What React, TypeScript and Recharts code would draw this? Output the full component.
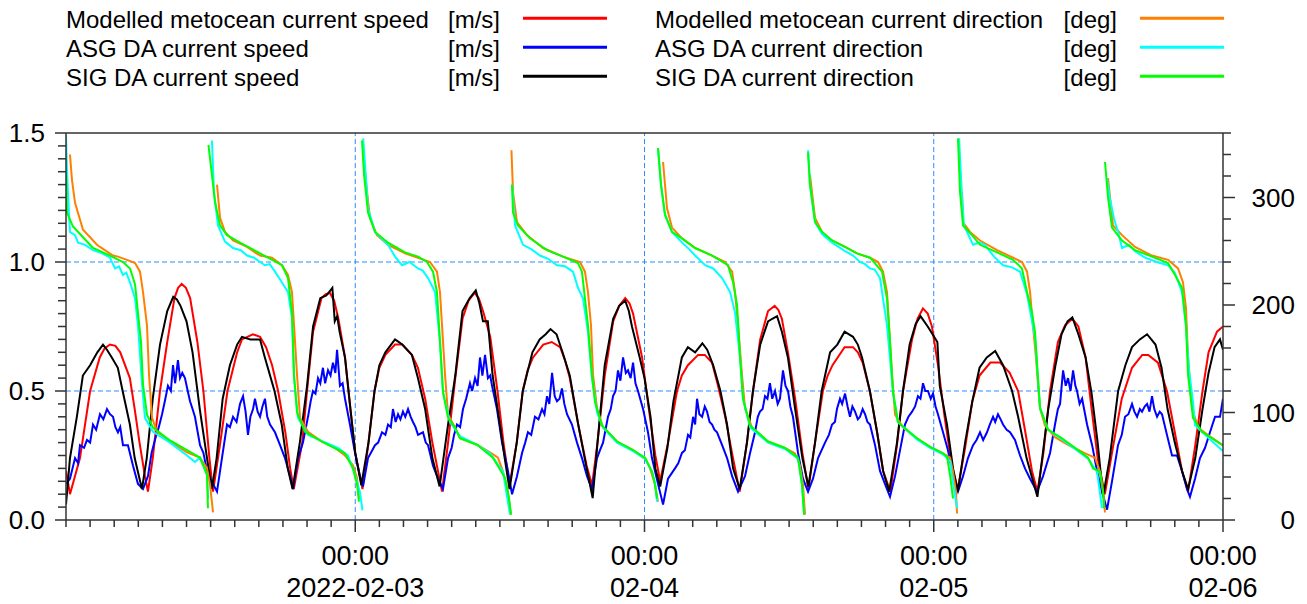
import { LineChart, Line, XAxis, YAxis, ReferenceLine, Legend } from "recharts";

type Pt = [number, number | null];

// hours since 2022-02-02 00:00 -> value
const MODEL_SPEED: Pt[] = [
  [0, 0.19], [0.33, 0.1], [1.16, 0.24], [2.0, 0.5], [2.8, 0.63], [3.2, 0.665], [3.65, 0.68], [4.1, 0.675], [4.5, 0.65],
  [5.3, 0.55], [5.7, 0.43], [6.1, 0.3], [6.55, 0.17], [6.8, 0.11], [7.2, 0.24], [7.8, 0.5], [8.4, 0.69], [9.0, 0.86],
  [9.3, 0.9], [9.6, 0.915], [9.95, 0.9], [10.3, 0.86], [10.9, 0.69], [11.4, 0.5], [11.9, 0.24], [12.2, 0.11], [12.8, 0.3],
  [13.4, 0.5], [14.2, 0.65], [14.6, 0.7], [15.5, 0.72], [16.1, 0.71], [16.6, 0.67], [17.1, 0.6], [17.6, 0.5], [18.2, 0.34],
  [18.6, 0.2], [18.9, 0.12], [19.6, 0.3], [20.0, 0.5], [20.5, 0.73], [21.2, 0.86], [21.55, 0.875], [21.9, 0.88],
  [22.25, 0.85], [22.6, 0.78], [23.15, 0.63], [23.6, 0.43], [24.0, 0.26], [24.6, 0.12], [25.1, 0.3], [25.6, 0.5],
  [26.0, 0.59], [26.5, 0.64], [27.3, 0.68], [27.9, 0.68], [28.7, 0.64], [29.2, 0.59], [29.8, 0.47], [30.4, 0.3], [31.2, 0.11],
  [31.7, 0.3], [32.3, 0.55], [32.9, 0.78], [33.4, 0.85], [33.9, 0.88], [34.25, 0.86], [34.6, 0.81], [35.2, 0.71], [35.8, 0.5],
  [36.3, 0.3], [36.8, 0.135], [37.4, 0.3], [37.9, 0.5], [38.3, 0.58], [38.75, 0.63], [39.6, 0.68], [40.3, 0.69], [41.0, 0.67],
  [41.4, 0.62], [41.8, 0.55], [42.5, 0.37], [43.2, 0.21], [43.65, 0.135], [44.1, 0.3], [44.7, 0.56], [45.4, 0.77],
  [45.9, 0.83], [46.4, 0.86], [46.75, 0.84], [47.05, 0.8], [47.8, 0.63], [48.3, 0.45], [48.9, 0.25], [49.3, 0.15],
  [49.95, 0.3], [50.7, 0.5], [51.1, 0.56], [51.6, 0.6], [52.45, 0.64], [53.0, 0.64], [53.6, 0.61], [54.1, 0.52], [54.7, 0.4],
  [55.3, 0.25], [55.9, 0.11], [56.5, 0.3], [57.0, 0.5], [57.6, 0.7], [58.25, 0.81], [58.8, 0.83], [59.1, 0.815], [59.4, 0.78],
  [59.9, 0.65], [60.5, 0.47], [61.1, 0.26], [61.6, 0.12], [62.15, 0.3], [62.8, 0.5], [63.2, 0.56], [63.6, 0.6], [64.6, 0.67],
  [65.3, 0.67], [65.7, 0.65], [66.1, 0.61], [66.7, 0.5], [67.3, 0.34], [67.8, 0.19], [68.4, 0.11], [68.95, 0.29], [69.45, 0.5],
  [70.2, 0.7], [70.65, 0.78], [71.1, 0.82], [71.5, 0.8], [71.85, 0.75], [72.35, 0.6], [72.9, 0.4], [73.5, 0.21], [74.0, 0.12],
  [74.6, 0.28], [75.2, 0.46], [75.8, 0.56], [76.7, 0.61], [77.5, 0.61], [78.3, 0.57], [79.0, 0.5], [79.6, 0.34], [80.15, 0.19],
  [80.6, 0.11], [81.1, 0.26], [81.65, 0.5], [82.3, 0.69], [82.9, 0.755], [83.5, 0.78], [84.0, 0.75], [84.6, 0.63], [85.1, 0.43],
  [85.6, 0.24], [86.2, 0.1], [86.9, 0.29], [87.6, 0.47], [88.45, 0.59], [89.3, 0.64], [89.8, 0.64], [90.6, 0.61], [91.35, 0.5],
  [92.0, 0.34], [92.6, 0.19], [93.1, 0.11], [93.7, 0.29], [94.3, 0.5], [94.8, 0.65], [95.5, 0.73], [96, 0.75],
];

const ASG_SPEED: Pt[] = [
  [0, 0.14], [0.33, 0.16], [0.75, 0.24], [1.0, 0.22], [1.16, 0.29], [1.5, 0.28], [1.74, 0.31], [2.0, 0.3], [2.24, 0.37],
  [2.5, 0.35], [2.82, 0.41], [3.1, 0.39], [3.4, 0.43], [3.65, 0.41], [3.9, 0.4], [4.1, 0.36], [4.31, 0.34], [4.5, 0.36],
  [4.73, 0.29], [5.14, 0.29], [5.35, 0.25], [5.56, 0.21], [5.97, 0.14], [6.39, 0.12], [6.8, 0.17], [7.1, 0.26], [7.38, 0.31],
  [7.7, 0.36], [7.97, 0.41], [8.2, 0.46], [8.46, 0.52], [8.7, 0.5], [8.88, 0.6], [9.05, 0.53], [9.29, 0.62], [9.46, 0.55],
  [9.65, 0.57], [9.87, 0.55], [10.1, 0.5], [10.29, 0.46], [10.5, 0.43], [10.7, 0.4], [11.12, 0.29], [11.4, 0.26], [11.7, 0.19],
  [12.2, 0.14], [12.53, 0.11], [12.94, 0.24], [13.36, 0.37], [13.6, 0.36], [13.86, 0.4], [14.15, 0.38], [14.44, 0.45],
  [14.69, 0.48], [14.9, 0.42], [15.1, 0.33], [15.3, 0.4], [15.52, 0.43], [15.68, 0.47], [15.9, 0.42], [16.1, 0.4],
  [16.3, 0.44], [16.51, 0.47], [16.7, 0.4], [16.93, 0.37], [17.34, 0.34], [17.76, 0.29], [18.17, 0.24], [18.59, 0.17],
  [18.84, 0.12], [19.25, 0.24], [19.66, 0.3], [20.08, 0.4], [20.3, 0.46], [20.49, 0.5], [20.7, 0.49], [20.91, 0.55],
  [21.1, 0.53], [21.32, 0.59], [21.5, 0.53], [21.74, 0.58], [21.95, 0.56], [22.15, 0.61], [22.35, 0.57], [22.49, 0.66],
  [22.73, 0.52], [22.95, 0.53], [23.15, 0.47], [23.56, 0.37], [23.98, 0.26], [24.39, 0.17], [24.64, 0.13], [25.06, 0.24],
  [25.64, 0.29], [25.9, 0.3], [26.22, 0.34], [26.5, 0.33], [26.72, 0.37], [26.95, 0.36], [27.13, 0.43], [27.35, 0.38],
  [27.55, 0.41], [27.75, 0.39], [27.96, 0.42], [28.15, 0.4], [28.38, 0.43], [28.6, 0.4], [28.79, 0.38], [29.0, 0.36],
  [29.21, 0.33], [29.62, 0.34], [29.85, 0.3], [30.04, 0.29], [30.45, 0.21], [30.87, 0.16], [31.28, 0.12], [31.7, 0.24],
  [32.0, 0.28], [32.2, 0.33], [32.44, 0.37], [32.7, 0.36], [32.94, 0.43], [33.2, 0.47], [33.52, 0.53], [33.7, 0.5],
  [33.94, 0.55], [34.15, 0.52], [34.35, 0.63], [34.55, 0.56], [34.77, 0.64], [35.01, 0.55], [35.2, 0.56], [35.35, 0.52],
  [35.76, 0.43], [36.18, 0.3], [36.59, 0.21], [37.01, 0.1], [37.42, 0.17], [37.84, 0.26], [38.1, 0.3], [38.33, 0.34],
  [38.6, 0.33], [38.91, 0.4], [39.2, 0.39], [39.5, 0.43], [39.7, 0.41], [39.91, 0.48], [40.1, 0.45], [40.33, 0.57],
  [40.55, 0.48], [40.74, 0.46], [40.95, 0.47], [41.15, 0.51], [41.35, 0.45], [41.57, 0.41], [41.98, 0.37], [42.4, 0.3],
  [42.81, 0.24], [43.23, 0.17], [43.64, 0.12], [44.06, 0.24], [44.3, 0.27], [44.56, 0.3], [44.97, 0.4], [45.2, 0.43],
  [45.39, 0.48], [45.6, 0.5], [45.8, 0.58], [46.0, 0.54], [46.22, 0.63], [46.45, 0.57], [46.63, 0.58], [46.85, 0.55],
  [47.05, 0.61], [47.25, 0.53], [47.46, 0.5], [47.88, 0.43], [48.29, 0.34], [48.62, 0.24], [49.12, 0.14], [49.54, 0.06],
  [49.95, 0.16], [50.53, 0.2], [50.8, 0.22], [51.11, 0.26], [51.35, 0.27], [51.61, 0.33], [51.8, 0.32], [52.03, 0.4],
  [52.2, 0.37], [52.36, 0.47], [52.55, 0.41], [52.78, 0.4], [53.0, 0.44], [53.19, 0.42], [53.4, 0.38], [53.61, 0.37],
  [53.8, 0.35], [54.02, 0.34], [54.44, 0.29], [54.85, 0.24], [55.27, 0.17], [55.76, 0.11], [56.34, 0.17], [56.76, 0.26],
  [57.17, 0.34], [57.4, 0.4], [57.58, 0.42], [57.8, 0.43], [58.0, 0.48], [58.2, 0.47], [58.41, 0.53], [58.6, 0.47],
  [58.83, 0.5], [59.05, 0.45], [59.24, 0.47], [59.49, 0.58], [59.7, 0.52], [59.91, 0.5], [60.1, 0.44], [60.32, 0.4],
  [60.74, 0.26], [61.15, 0.16], [61.57, 0.11], [61.98, 0.16], [62.4, 0.24], [62.98, 0.3], [63.3, 0.33], [63.56, 0.37],
  [63.8, 0.38], [63.97, 0.43], [64.22, 0.47], [64.4, 0.45], [64.64, 0.49], [64.85, 0.44], [65.05, 0.4], [65.25, 0.44],
  [65.47, 0.42], [65.7, 0.39], [65.88, 0.4], [66.1, 0.43], [66.3, 0.41], [66.5, 0.38], [66.71, 0.37], [67.13, 0.29],
  [67.54, 0.19], [67.95, 0.14], [68.37, 0.09], [68.79, 0.17], [69.2, 0.27], [69.61, 0.37], [69.9, 0.4], [70.2, 0.42],
  [70.45, 0.44], [70.69, 0.48], [70.9, 0.47], [71.11, 0.53], [71.3, 0.5], [71.52, 0.5], [71.75, 0.47], [71.94, 0.49],
  [72.15, 0.44], [72.35, 0.41], [72.77, 0.34], [73.18, 0.27], [73.6, 0.17], [74.01, 0.11], [74.43, 0.17], [74.84, 0.24],
  [75.26, 0.29], [75.55, 0.31], [75.84, 0.34], [76.1, 0.31], [76.42, 0.34], [76.65, 0.37], [76.92, 0.4], [77.1, 0.38],
  [77.33, 0.41], [77.55, 0.39], [77.75, 0.37], [78.05, 0.35], [78.33, 0.34], [78.74, 0.31], [79.16, 0.25], [79.57, 0.2],
  [79.99, 0.16], [80.57, 0.11], [81.07, 0.17], [81.65, 0.26], [82.06, 0.37], [82.3, 0.43], [82.48, 0.45], [82.73, 0.58],
  [82.95, 0.52], [83.14, 0.55], [83.35, 0.5], [83.56, 0.58], [83.75, 0.52], [83.89, 0.5], [84.1, 0.45], [84.31, 0.47],
  [84.72, 0.37], [85.14, 0.29], [85.55, 0.19], [85.96, 0.11], [86.38, 0.04], [86.79, 0.15], [87.29, 0.29], [87.6, 0.33],
  [87.87, 0.4], [88.15, 0.41], [88.45, 0.45], [88.65, 0.42], [88.87, 0.4], [89.1, 0.43], [89.28, 0.42], [89.5, 0.44],
  [89.7, 0.45], [89.9, 0.42], [90.11, 0.48], [90.3, 0.43], [90.53, 0.4], [90.75, 0.42], [90.94, 0.41], [91.35, 0.33],
  [91.77, 0.25], [92.18, 0.25], [92.6, 0.19], [93.01, 0.12], [93.26, 0.09], [93.68, 0.16], [94.09, 0.24], [94.51, 0.28],
  [94.92, 0.34], [95.34, 0.4], [95.75, 0.4], [96, 0.47],
];

const SIG_SPEED: Pt[] = [
  [0, 0.06], [0.33, 0.24], [0.9, 0.4], [1.4, 0.56], [2.0, 0.6], [2.6, 0.65], [3.07, 0.68], [3.4, 0.66], [3.8, 0.63],
  [4.3, 0.59], [4.7, 0.5], [5.3, 0.37], [5.7, 0.24], [6.3, 0.12], [6.7, 0.24], [7.2, 0.47], [7.8, 0.68], [8.4, 0.81],
  [8.9, 0.865], [9.2, 0.855], [9.5, 0.83], [10.0, 0.77], [10.5, 0.65], [11.1, 0.43], [11.7, 0.24], [12.1, 0.12], [12.5, 0.24],
  [13.0, 0.47], [13.6, 0.6], [14.2, 0.68], [14.6, 0.71], [15.3, 0.7], [16.1, 0.7], [16.5, 0.63], [17.3, 0.5], [17.9, 0.37],
  [18.4, 0.2], [18.8, 0.12], [19.4, 0.3], [20.0, 0.52], [20.5, 0.75], [21.1, 0.86], [21.6, 0.87], [22.1, 0.9], [22.3, 0.77],
  [22.5, 0.79], [22.7, 0.73], [23.15, 0.63], [23.6, 0.43], [24.0, 0.26], [24.5, 0.135], [25.1, 0.3], [25.6, 0.5], [26.0, 0.6],
  [26.5, 0.65], [27.3, 0.7], [27.9, 0.68], [28.7, 0.64], [29.2, 0.55], [29.8, 0.43], [30.4, 0.24], [31.0, 0.13], [31.7, 0.37],
  [32.3, 0.56], [32.9, 0.81], [33.5, 0.86], [34.0, 0.89], [34.3, 0.84], [34.6, 0.77], [35.0, 0.77], [35.4, 0.56], [36.0, 0.37],
  [36.4, 0.24], [36.8, 0.12], [37.4, 0.3], [37.9, 0.5], [38.7, 0.65], [39.3, 0.7], [39.8, 0.72], [40.2, 0.74], [40.7, 0.72],
  [41.2, 0.65], [41.8, 0.56], [42.5, 0.37], [43.2, 0.2], [43.7, 0.085], [44.1, 0.3], [44.7, 0.6], [45.4, 0.78], [45.9, 0.83],
  [46.4, 0.85], [46.7, 0.81], [46.96, 0.75], [47.6, 0.63], [48.0, 0.55], [48.5, 0.4], [48.9, 0.2], [49.3, 0.13], [49.9, 0.28],
  [50.4, 0.46], [51.1, 0.63], [51.6, 0.67], [52.2, 0.65], [52.8, 0.685], [53.2, 0.66], [53.7, 0.6], [54.3, 0.5], [54.85, 0.37],
  [55.35, 0.2], [55.9, 0.12], [56.5, 0.3], [57.0, 0.5], [57.6, 0.68], [58.25, 0.77], [58.6, 0.78], [59.0, 0.79], [59.4, 0.73],
  [59.9, 0.63], [60.5, 0.43], [61.1, 0.24], [61.6, 0.13], [62.15, 0.3], [62.7, 0.5], [63.4, 0.65], [64.0, 0.68], [64.6, 0.73],
  [65.3, 0.71], [65.7, 0.68], [66.05, 0.63], [66.7, 0.5], [67.3, 0.34], [67.8, 0.19], [68.3, 0.11], [68.95, 0.3], [69.45, 0.5],
  [70.0, 0.68], [70.5, 0.76], [70.9, 0.79], [71.5, 0.75], [72.3, 0.69], [72.5, 0.52], [73.1, 0.37], [73.6, 0.2], [74.0, 0.11],
  [74.6, 0.3], [75.2, 0.46], [75.8, 0.59], [76.4, 0.63], [77.1, 0.655], [77.75, 0.6], [78.5, 0.5], [79.0, 0.4], [79.7, 0.24],
  [80.6, 0.09], [81.0, 0.24], [81.5, 0.43], [82.1, 0.6], [82.6, 0.72], [83.1, 0.77], [83.5, 0.785], [84.0, 0.72], [84.6, 0.63],
  [85.1, 0.49], [85.6, 0.3], [86.05, 0.09], [86.6, 0.24], [87.3, 0.5], [87.9, 0.6], [88.45, 0.67], [89.1, 0.7], [89.7, 0.72],
  [90.4, 0.68], [90.9, 0.59], [91.4, 0.43], [92.0, 0.3], [92.6, 0.19], [93.1, 0.12], [93.7, 0.24], [94.3, 0.43], [94.8, 0.57],
  [95.3, 0.67], [95.75, 0.7], [96, 0.66],
];

// directions in degrees; null = wrap from 0 to 360
const MODEL_DIR: Pt[] = [
  [0.33, 340], [0.5, 316], [0.75, 295], [1.41, 270], [2.57, 256], [2.82, 254], [3.9, 246], [4.31, 245], [5.06, 242], [5.73, 239],
  [6.14, 231], [6.39, 212], [6.72, 181], [6.89, 135], [7.14, 95], [7.55, 82], [8.63, 73], [10.04, 63], [11.12, 58], [11.7, 48],
  [11.95, 33], [12.2, 7], [12.3, null],
  [12.53, 312], [12.78, 281], [13.19, 268], [13.86, 260], [15.02, 254], [15.68, 249], [16.1, 246], [17.09, 244], [17.92, 237],
  [18.42, 228], [18.75, 212], [18.92, 181], [19.17, 135], [19.42, 95], [20.08, 82], [21.24, 73], [22.32, 67], [23.15, 60],
  [23.81, 51], [24.15, 39], [24.31, 20], [24.4, null],
  [24.64, 344], [24.98, 305], [25.22, 281], [25.8, 265], [26.72, 256], [28.13, 248], [29.21, 244], [30.2, 240], [30.78, 231],
  [31.03, 212], [31.2, 181], [31.45, 135], [31.7, 98], [32.28, 86], [32.69, 76], [34.1, 70], [35.18, 63], [35.84, 58],
  [36.26, 45], [36.67, 26], [36.92, 5], [36.94, null],
  [36.96, 344], [37.09, 305], [37.42, 277], [38.25, 265], [39.58, 253], [41.24, 245], [42.65, 240], [43.06, 231], [43.31, 212],
  [43.56, 181], [43.73, 135], [44.06, 104], [44.56, 86], [45.72, 73], [47.05, 65], [47.88, 58], [48.04, 58], [48.46, 48],
  [48.87, 33], [49.12, 17], [49.2, null],
  [49.54, 333], [49.87, 290], [50.28, 272], [51.11, 262], [52.2, 253], [53.61, 246], [54.69, 240], [55.27, 231], [55.51, 212],
  [55.76, 181], [56.09, 135], [56.34, 104], [56.92, 86], [58.25, 73], [59.66, 67], [60.49, 62], [60.9, 51], [61.15, 33],
  [61.32, 5], [61.4, null],
  [61.73, 321], [62.15, 281], [62.73, 268], [63.56, 260], [64.64, 254], [65.63, 248], [66.71, 244], [67.38, 240], [67.79, 231],
  [68.12, 212], [68.29, 181], [68.54, 135], [68.79, 98], [69.45, 86], [70.61, 76], [71.69, 68], [72.77, 62], [73.35, 58],
  [73.6, 45], [73.85, 26], [73.93, 6], [73.97, null],
  [74.35, 305], [74.43, 277], [75.01, 268], [75.84, 260], [77.25, 251], [78.58, 244], [79.32, 240], [79.74, 231], [79.99, 212],
  [80.23, 181], [80.49, 150], [80.65, 126], [80.82, 104], [81.23, 88], [82.06, 77], [83.14, 70], [84.56, 62], [85.38, 58],
  [85.8, 45], [86.05, 26], [86.21, 7], [86.25, null],
  [86.46, 318], [86.87, 274], [87.62, 265], [88.7, 254], [90.11, 246], [91.44, 242], [92.27, 234], [92.68, 221], [92.93, 197],
  [93.1, 151], [93.43, 104], [93.93, 86], [94.76, 79], [95.92, 70], [96, 69],
];

const ASG_DIR: Pt[] = [
  [0, 358], [0.08, 326], [0.25, 284], [0.33, 268], [0.75, 265], [1.0, 258], [1.58, 256], [2.24, 251], [3.0, 248], [3.65, 244],
  [4.07, 234], [4.4, 236], [4.73, 228], [5.0, 230], [5.31, 221], [5.73, 206], [5.97, 181], [6.31, 126], [6.55, 95], [7.22, 82],
  [8.63, 72], [10.04, 60], [10.7, 54], [11.12, 58], [11.7, 42], [11.8, 20], [11.85, null],
  [12.11, 353], [12.28, 305], [12.61, 274], [13.19, 259], [13.86, 253], [14.5, 251], [15.02, 246], [15.6, 244], [16.1, 240],
  [16.51, 237], [16.9, 238], [17.34, 231], [17.92, 221], [18.42, 212], [18.75, 188], [18.92, 132], [19.25, 95], [20.08, 79],
  [22.57, 67], [23.4, 60], [23.98, 42], [24.39, 26], [24.6, 9], [24.62, null],
  [24.66, 355], [25.06, 290], [25.64, 268], [26.72, 256], [27.3, 245], [27.88, 237], [28.5, 240], [29.21, 234], [29.6, 232],
  [30.04, 225], [30.62, 212], [31.03, 166], [31.28, 119], [31.86, 91], [32.69, 78], [34.1, 70], [35.18, 62], [36.26, 45],
  [36.84, 5], [36.9, null],
  [37.01, 312], [37.26, 274], [37.92, 256], [38.6, 252], [39.33, 246], [40.0, 243], [40.74, 237], [41.4, 236], [42.07, 231],
  [42.48, 216], [42.9, 206], [43.31, 175], [43.64, 132], [44.06, 100], [44.56, 86], [45.72, 72], [47.05, 64], [48.04, 57],
  [48.62, 45], [48.87, 35], [49.04, 17], [49.08, null],
  [49.12, 346], [49.37, 312], [49.7, 284], [50.28, 268], [51.11, 258], [51.7, 252], [52.2, 246], [53.03, 237], [53.7, 234],
  [54.44, 225], [55.1, 212], [55.51, 193], [55.93, 151], [56.17, 113], [56.76, 86], [58.25, 72], [59.66, 66], [60.74, 57],
  [61.07, 33], [61.24, 5], [61.3, null],
  [61.57, 344], [61.73, 312], [62.15, 277], [62.73, 266], [63.56, 258], [64.1, 254], [64.64, 250], [65.3, 246], [65.88, 240],
  [66.3, 238], [66.71, 234], [67.1, 233], [67.54, 225], [67.79, 206], [68.12, 181], [68.37, 150], [68.62, 119], [69.03, 91],
  [70.61, 75], [71.69, 67], [72.77, 61], [73.35, 55], [73.6, 35], [73.93, 11], [73.97, null],
  [74.1, 355], [74.35, 300], [74.51, 274], [75.26, 256], [75.8, 258], [76.25, 256], [77.0, 245], [77.75, 237], [78.5, 235],
  [79.16, 231], [79.74, 210], [80.07, 190], [80.4, 170], [80.65, 130], [80.82, 104], [81.48, 84], [82.64, 75], [83.97, 64],
  [84.8, 57], [85.55, 45], [85.96, 11], [86.0, null],
  [86.38, 318], [86.6, 300], [86.96, 280], [87.3, 268], [87.62, 253], [88.2, 256], [88.7, 250], [89.53, 244], [90.5, 240],
  [91.44, 237], [92.0, 230], [92.6, 212], [92.93, 180], [93.18, 140], [93.51, 110], [93.68, 88], [94.92, 75], [95.92, 65],
  [96, 65],
];

const SIG_DIR: Pt[] = [
  [0, 323], [0.08, 286], [0.58, 273], [1.41, 263], [2.24, 253], [3.65, 246], [4.73, 240], [5.31, 234], [5.73, 219], [5.97, 193],
  [6.22, 166], [6.39, 126], [6.72, 98], [7.22, 86], [8.63, 74], [10.04, 65], [11.12, 58], [11.7, 42], [11.78, 11], [11.8, null],
  [11.82, 349], [12.11, 321], [12.36, 296], [12.78, 274], [13.36, 265], [14.44, 258], [16.1, 248], [16.76, 244], [17.92, 237],
  [18.42, 225], [18.75, 193], [18.92, 135], [19.17, 100], [19.83, 82], [21.24, 73], [23.15, 62], [23.81, 48], [24.15, 33],
  [24.31, 17], [24.4, null],
  [24.56, 353], [24.73, 321], [25.06, 286], [25.64, 268], [26.72, 258], [28.13, 249], [29.21, 245], [29.95, 240], [30.45, 231],
  [30.78, 212], [31.03, 166], [31.28, 119], [31.7, 95], [32.28, 86], [32.69, 76], [34.1, 70], [35.43, 58], [36.43, 39],
  [36.76, 20], [36.92, 5], [36.95, null],
  [37.01, 312], [37.09, 286], [37.5, 274], [38.5, 262], [39.91, 251], [41.24, 245], [42.48, 239], [42.81, 231], [43.06, 206],
  [43.31, 181], [43.64, 135], [43.89, 110], [44.47, 88], [45.72, 73], [47.05, 65], [48.04, 58], [48.62, 45], [48.87, 33],
  [49.04, 20], [49.08, null],
  [49.12, 346], [49.37, 312], [49.7, 284], [50.28, 268], [51.11, 262], [52.2, 253], [53.61, 246], [54.93, 237], [55.35, 221],
  [55.68, 200], [55.93, 151], [56.17, 113], [56.76, 88], [58.25, 73], [59.66, 67], [60.74, 58], [61.07, 33], [61.24, 5],
  [61.3, null],
  [61.57, 342], [61.73, 312], [62.15, 277], [62.73, 268], [63.56, 260], [64.64, 254], [65.63, 248], [66.71, 244], [67.71, 231],
  [68.12, 206], [68.37, 166], [68.62, 119], [69.03, 91], [70.61, 76], [71.69, 68], [72.77, 62], [73.1, 59], [73.35, 42],
  [73.6, 20], [73.65, null],
  [74.01, 355], [74.18, 305], [74.43, 274], [75.17, 265], [75.84, 256], [77.25, 249], [78.58, 242], [79.32, 234], [79.74, 212],
  [80.15, 193], [80.4, 175], [80.65, 132], [80.82, 104], [81.48, 84], [82.64, 76], [83.97, 65], [84.8, 58], [85.22, 48],
  [85.8, 45], [86.05, 26], [86.13, 11], [86.17, null],
  [86.21, 333], [86.46, 300], [86.79, 272], [87.62, 260], [88.7, 251], [90.11, 245], [91.44, 239], [92.02, 228], [92.6, 216],
  [92.93, 181], [93.1, 135], [93.51, 95], [94.26, 82], [95.09, 76], [95.92, 70], [96, 70],
];

const SERIES = [
  { name: "Modelled metocean current speed", unit: "[m/s]", color: "#ff0000", axis: "spd", data: MODEL_SPEED },
  { name: "ASG DA current speed", unit: "[m/s]", color: "#0000ff", axis: "spd", data: ASG_SPEED },
  { name: "SIG DA current speed", unit: "[m/s]", color: "#000000", axis: "spd", data: SIG_SPEED },
  { name: "Modelled metocean current direction", unit: "[deg]", color: "#ff8000", axis: "dir", data: MODEL_DIR },
  { name: "ASG DA current direction", unit: "[deg]", color: "#00ffff", axis: "dir", data: ASG_DIR },
  { name: "SIG DA current direction", unit: "[deg]", color: "#00ff00", axis: "dir", data: SIG_DIR },
];

const DAY_LABELS: Record<number, string> = { 24: "2022-02-03", 48: "02-04", 72: "02-05", 96: "02-06" };
const SPEED_LABELS = [0, 0.5, 1.0, 1.5];
const DIR_LABELS = [0, 100, 200, 300];
const GRID_SPEED = [0.5, 1.0];
const GRID_HOURS = [24, 48, 72];

const X_TICKS = Array.from({ length: 49 }, (_, i) => i * 2);
const SPEED_TICKS = Array.from({ length: 31 }, (_, i) => Math.round(i * 5) / 100);
const DIR_TICKS = Array.from({ length: 19 }, (_, i) => i * 20);

const FONT = '"Liberation Sans", Arial, sans-serif';
const AXIS = "#333";
const GRID = "#2e8bff";

function SpeedTick({ x, y, payload }: any) {
  const v = payload.value;
  const major = SPEED_LABELS.some((m) => Math.abs(m - v) < 1e-6);
  return (
    <g>
      <line x1={x - (major ? 11 : 8)} x2={x} y1={y} y2={y} stroke={AXIS} strokeWidth={1.5} />
      {major && (
        <text x={x - 21} y={y} textAnchor="end" dominantBaseline="central" fontSize={26} fontFamily={FONT} fill="#000">
          {v.toFixed(1)}
        </text>
      )}
    </g>
  );
}

function DirTick({ x, y, payload }: any) {
  const v = payload.value;
  const major = DIR_LABELS.includes(v);
  return (
    <g>
      <line x1={x} x2={x + (major ? 12 : 8)} y1={y} y2={y} stroke={AXIS} strokeWidth={1.5} />
      {major && (
        <text x={x + 72} y={y} textAnchor="end" dominantBaseline="central" fontSize={26} fontFamily={FONT} fill="#000">
          {v}
        </text>
      )}
    </g>
  );
}

function TimeTick({ x, y, payload }: any) {
  const v = payload.value;
  const label = DAY_LABELS[v];
  return (
    <g>
      <line x1={x} x2={x} y1={y} y2={y + (label ? 12 : 7)} stroke={AXIS} strokeWidth={1.5} />
      {label && (
        <text x={x} textAnchor="middle" fontSize={27} fontFamily={FONT} fill="#000">
          <tspan x={x} y={y + 45}>00:00</tspan>
          <tspan x={x} y={y + 77}>{label}</tspan>
        </text>
      )}
    </g>
  );
}

function LegendBox() {
  return (
    <svg width={1307} height={100} style={{ display: "block" }}>
      {SERIES.map((s, i) => {
        const col = i < 3 ? 0 : 1;
        const row = i % 3;
        const tx = col ? 655 : 66;
        const ux = col ? 1117 : 500;
        const lx = col ? 1140 : 523;
        const base = 28.3 + row * 29;
        return (
          <g key={s.name} fontFamily={FONT} fontSize={24} fill="#000">
            <text x={tx} y={base}>{s.name}</text>
            <text x={ux} y={base} textAnchor="end">{s.unit}</text>
            <line x1={lx} x2={lx + 84} y1={base - 10} y2={base - 10} stroke={s.color} strokeWidth={3} />
          </g>
        );
      })}
    </svg>
  );
}

export default function App() {
  return (
    <div style={{ position: "absolute", left: 0, top: 0, width: 1307, height: 604, background: "#fff" }}>
      <LineChart width={1307} height={604} margin={{ top: 133, right: 0, bottom: 0, left: 0 }}>
        <XAxis
          type="number"
          dataKey="t"
          domain={[0, 96]}
          ticks={X_TICKS}
          interval={0}
          height={84}
          tickSize={0}
          tickMargin={0}
          tick={<TimeTick />}
          axisLine={{ stroke: AXIS, strokeWidth: 1.5 }}
          tickLine={false}
          allowDataOverflow
        />
        <YAxis
          yAxisId="spd"
          orientation="left"
          type="number"
          domain={[0, 1.5]}
          ticks={SPEED_TICKS}
          interval={0}
          width={66}
          tickSize={0}
          tickMargin={0}
          tick={<SpeedTick />}
          axisLine={{ stroke: AXIS, strokeWidth: 1.5 }}
          tickLine={false}
          allowDataOverflow
        />
        <YAxis
          yAxisId="dir"
          orientation="right"
          type="number"
          domain={[0, 360]}
          ticks={DIR_TICKS}
          interval={0}
          width={84}
          tickSize={0}
          tickMargin={0}
          tick={<DirTick />}
          axisLine={{ stroke: AXIS, strokeWidth: 1.5 }}
          tickLine={false}
          allowDataOverflow
        />
        {GRID_SPEED.map((g) => (
          <ReferenceLine key={"g" + g} yAxisId="spd" y={g} stroke={GRID} strokeDasharray="5 3" />
        ))}
        {GRID_HOURS.map((h) => (
          <ReferenceLine key={"h" + h} yAxisId="spd" x={h} stroke={GRID} strokeDasharray="5 3" />
        ))}
        <ReferenceLine yAxisId="spd" y={1.5} stroke={AXIS} strokeWidth={1.5} />
        {SERIES.map((s) => (
          <Line
            key={s.name}
            name={s.name}
            yAxisId={s.axis}
            data={s.data.map(([t, v]) => ({ t, v }))}
            dataKey="v"
            type="linear"
            stroke={s.color}
            strokeWidth={2}
            dot={false}
            activeDot={false}
            isAnimationActive={false}
          />
        ))}
        <Legend
          layout="horizontal"
          align="center"
          verticalAlign="middle"
          content={() => <LegendBox />}
          wrapperStyle={{ position: "absolute", left: 0, top: 0, width: 1307, height: 100 }}
        />
      </LineChart>
    </div>
  );
}
